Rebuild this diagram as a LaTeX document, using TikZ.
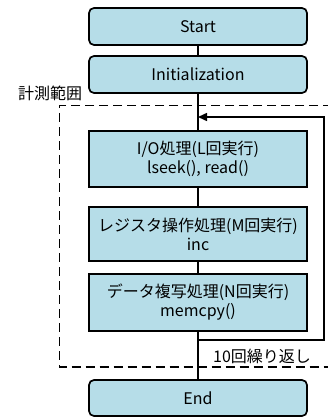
\documentclass[tikz,border=0pt]{standalone}
\usepackage{fontspec}
\setmainfont{Noto Sans CJK JP}
\usetikzlibrary{arrows.meta}
\definecolor{boxfill}{HTML}{B6DDE8}
\tikzset{
  basebox/.style={draw=black, line width=1.7pt, fill=boxfill, minimum width=218pt,
    inner sep=0pt, align=center, font=\fontsize{16}{19}\selectfont},
  roundbox/.style={basebox, rounded corners=5pt},
  squarebox/.style={basebox},
  conn/.style={draw=black, line width=1.5pt},
  measure/.style={draw=black, line width=1.6pt, dash pattern=on 9pt off 5pt},
  lbl/.style={inner sep=0pt, font=\fontsize{16}{18}\selectfont},
}
\begin{document}
\begin{tikzpicture}[x=1pt,y=-1pt]
\useasboundingbox (0,0) rectangle (328,417);
\fill[white] (0,0) rectangle (328,417);
% measurement range (dashed)
\draw[measure] (332,105.5) -- (59.5,105.5) -- (59.5,367) -- (332,367);
\node[lbl] (meas) at (50,93) {計測範囲};
\node[lbl] (rep) at (262,356) {10回繰り返し};
% boxes
\node[roundbox, minimum height=37pt] (start) at (198,26.5) {Start};
\node[roundbox, minimum height=37pt] (init) at (198,74.5) {Initialization};
\node[squarebox, minimum height=56pt] (io) at (198,159) {I/O処理(L回実行)\\lseek(), read()};
\node[squarebox, minimum height=54pt] (reg) at (198,234) {レジスタ操作処理(M回実行)\\inc};
\node[squarebox, minimum height=57pt] (data) at (198,302.5) {データ複写処理(N回実行)\\memcpy()};
\node[roundbox, minimum height=36pt] (end) at (198,398) {End};
% connectors
\draw[conn] (start) -- (init);
\draw[conn] (init) -- (io);
\draw[conn] (io) -- (reg);
\draw[conn] (reg) -- (data);
\draw[conn] (data) -- (end);
% loop
\coordinate (lb) at (198,340);
\coordinate (lt) at (198,117);
\coordinate (rb) at (324,340);
\coordinate (rt) at (324,117);
\draw[conn, -{Triangle[length=9pt,width=8pt]}] (lb) -- (rb) -- (rt) -- (lt);
\end{tikzpicture}
\end{document}
